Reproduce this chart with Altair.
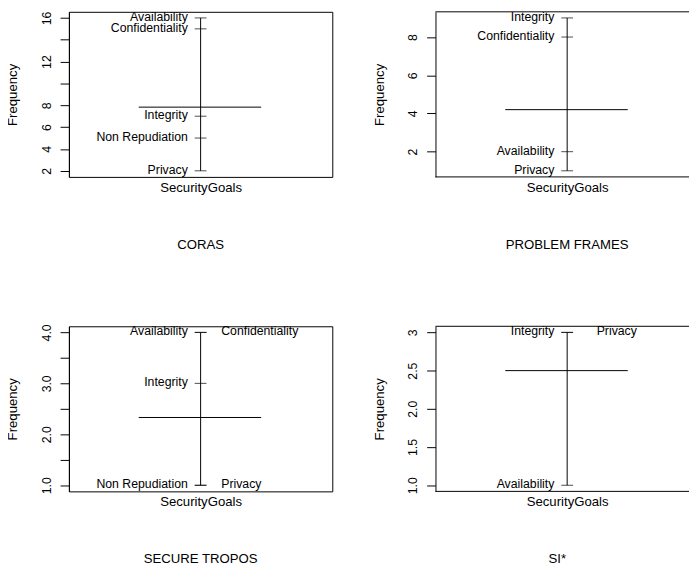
import altair as alt
import pandas as pd

FONT = "Liberation Sans"

# ---- data ----
CORAS_GOALS = ["Availability", "Confidentiality", "Integrity", "Non Repudiation", "Privacy"]
CORAS_FREQ = [16, 15, 7, 5, 2]
CORAS_SIDE = ["left", "left", "left", "left", "left"]
CORAS_MEAN = 7.83
CORAS_TICKS = [2, 4, 6, 8, 10, 12, 14, 16]
CORAS_TICK_LABELS = ["2", "4", "6", "8", "", "12", "", "16"]

PF_GOALS = ["Integrity", "Confidentiality", "Availability", "Privacy"]
PF_FREQ = [9, 8, 2, 1]
PF_SIDE = ["left", "left", "left", "left"]
PF_MEAN = 4.2
PF_TICKS = [2, 4, 6, 8]
PF_TICK_LABELS = ["2", "4", "6", "8"]

ST_GOALS = ["Availability", "Confidentiality", "Integrity", "Non Repudiation", "Privacy"]
ST_FREQ = [4, 4, 3, 1, 1]
ST_SIDE = ["left", "right", "left", "left", "right"]
ST_MEAN = 2.33
ST_TICKS = [1.0, 1.5, 2.0, 2.5, 3.0, 3.5, 4.0]
ST_TICK_LABELS = ["1.0", "", "2.0", "", "3.0", "", "4.0"]

SI_GOALS = ["Integrity", "Privacy", "Availability"]
SI_FREQ = [3, 3, 1]
SI_SIDE = ["left", "right", "left"]
SI_MEAN = 2.5
SI_TICKS = [1.0, 1.5, 2.0, 2.5, 3.0]
SI_TICK_LABELS = ["1.0", "1.5", "2.0", "2.5", "3"]

TITLES = ["CORAS", "PROBLEM FRAMES", "SECURE TROPOS", "SI*"]
X_LABEL = "SecurityGoals"
Y_LABEL = "Frequency"

REF_W = 268   # width of a full panel box
PLOT_H = 168


def label_expr(ticks, labels):
    parts = [f"datum.value == {t} ? '{l}'" for t, l in zip(ticks, labels)]
    return " : ".join(parts) + " : ''"


def panel(goals, freq, side, mean, ticks, tick_labels, title,
          plot_w, right_dx, title_dx, framed):
    lo, hi = min(freq), max(freq)
    pad = 0.04 * (hi - lo)
    ydom = [lo - pad, hi + pad]
    xmax = plot_w / REF_W
    xsc = alt.Scale(domain=[0, xmax], nice=False, zero=False)
    ysc = alt.Scale(domain=ydom, nice=False, zero=False)
    xax = alt.Axis(title=X_LABEL, labels=False, ticks=False, domain=False, grid=False,
                   titlePadding=3.5, titleX=REF_W / 2, titleAlign="center",
                   titleBaseline="top", titleFontSize=13.4, titleFontWeight="normal",
                   titleFont=FONT, titleColor="black")
    yax = alt.Axis(values=ticks, labelExpr=label_expr(ticks, tick_labels),
                   tickSize=9, tickColor="black", tickWidth=1,
                   domainColor="black", domainWidth=1,
                   labelPadding=10, labelAngle=270, labelAlign="center",
                   labelBaseline="alphabetic", labelFontSize=12.5, labelFont=FONT,
                   labelColor="black", labelFlush=False, labelOverlap=False, grid=False,
                   title=Y_LABEL, titleAngle=270, titleX=-53, titleY=PLOT_H / 2,
                   titleAlign="center", titleBaseline="alphabetic",
                   titleFontSize=13.4, titleFontWeight="normal", titleFont=FONT,
                   titleColor="black")

    def X(f="x"):
        return alt.X(f"{f}:Q", scale=xsc, axis=xax)

    Y = alt.Y("v:Q", scale=ysc, axis=yax)

    stem = alt.Chart(pd.DataFrame({"x": [0.5], "v": [lo], "v2": [hi]})).mark_rule(
        color="black", strokeWidth=1).encode(x=X(), y=Y, y2="v2:Q")
    mean_line = alt.Chart(pd.DataFrame({"x": [0.265], "x2": [0.73], "v": [mean]})).mark_rule(
        color="black", strokeWidth=1).encode(x=X(), x2="x2:Q", y=Y)
    df = pd.DataFrame({"goal": goals, "v": freq, "side": side, "x": [0.5] * len(goals)})
    tick_marks = alt.Chart(df).mark_tick(orient="horizontal", size=12, thickness=1,
                                         color="black").encode(x=X(), y=Y)
    left_txt = alt.Chart(df).transform_filter("datum.side == 'left'").mark_text(
        align="right", baseline="middle", dx=-13, dy=-1, fontSize=12.5, font=FONT,
        color="black").encode(x=X(), y=Y, text="goal:N")
    right_txt = alt.Chart(df).transform_filter("datum.side == 'right'").mark_text(
        align="left", baseline="middle", dx=right_dx, dy=-1, fontSize=12.5, font=FONT,
        color="black").encode(x=X(), y=Y, text="goal:N")
    layers = [stem, mean_line, tick_marks, left_txt, right_txt]
    if not framed:
        frame = alt.Chart(pd.DataFrame({"x": [0, 0], "x2": [xmax, xmax],
                                        "v": ydom})).mark_rule(
            color="black", strokeWidth=1).encode(x=X(), x2="x2:Q", y=Y)
        layers.append(frame)
    view = alt.ViewBackground(stroke="black" if framed else "transparent", strokeWidth=1)
    return alt.layer(*layers).properties(
        width=plot_w, height=PLOT_H, view=view,
        title=alt.TitleParams(title, orient="bottom", anchor="middle", offset=45,
                              fontSize=13.4, fontWeight="normal", font=FONT,
                              color="black", dx=title_dx))


p1 = panel(CORAS_GOALS, CORAS_FREQ, CORAS_SIDE, CORAS_MEAN, CORAS_TICKS, CORAS_TICK_LABELS,
           TITLES[0], 268, 21, 0, True)
p2 = panel(PF_GOALS, PF_FREQ, PF_SIDE, PF_MEAN, PF_TICKS, PF_TICK_LABELS,
           TITLES[1], 258, 21, 5, False)
p3 = panel(ST_GOALS, ST_FREQ, ST_SIDE, ST_MEAN, ST_TICKS, ST_TICK_LABELS,
           TITLES[2], 268, 21, 0, True)
p4 = panel(SI_GOALS, SI_FREQ, SI_SIDE, SI_MEAN, SI_TICKS, SI_TICK_LABELS,
           TITLES[3], 258, 30, -5, False)

chart = alt.concat(p1, p2, p3, p4, columns=2, align="none",
                   spacing={"row": 152, "column": 105}, bounds="flush").properties(
    padding={"left": -3, "top": -3, "right": 0, "bottom": -8}
).configure(background="white").configure_view(stroke="black", strokeWidth=1)

chart.save("out.html", embed_options={"renderer": "svg", "actions": False})
